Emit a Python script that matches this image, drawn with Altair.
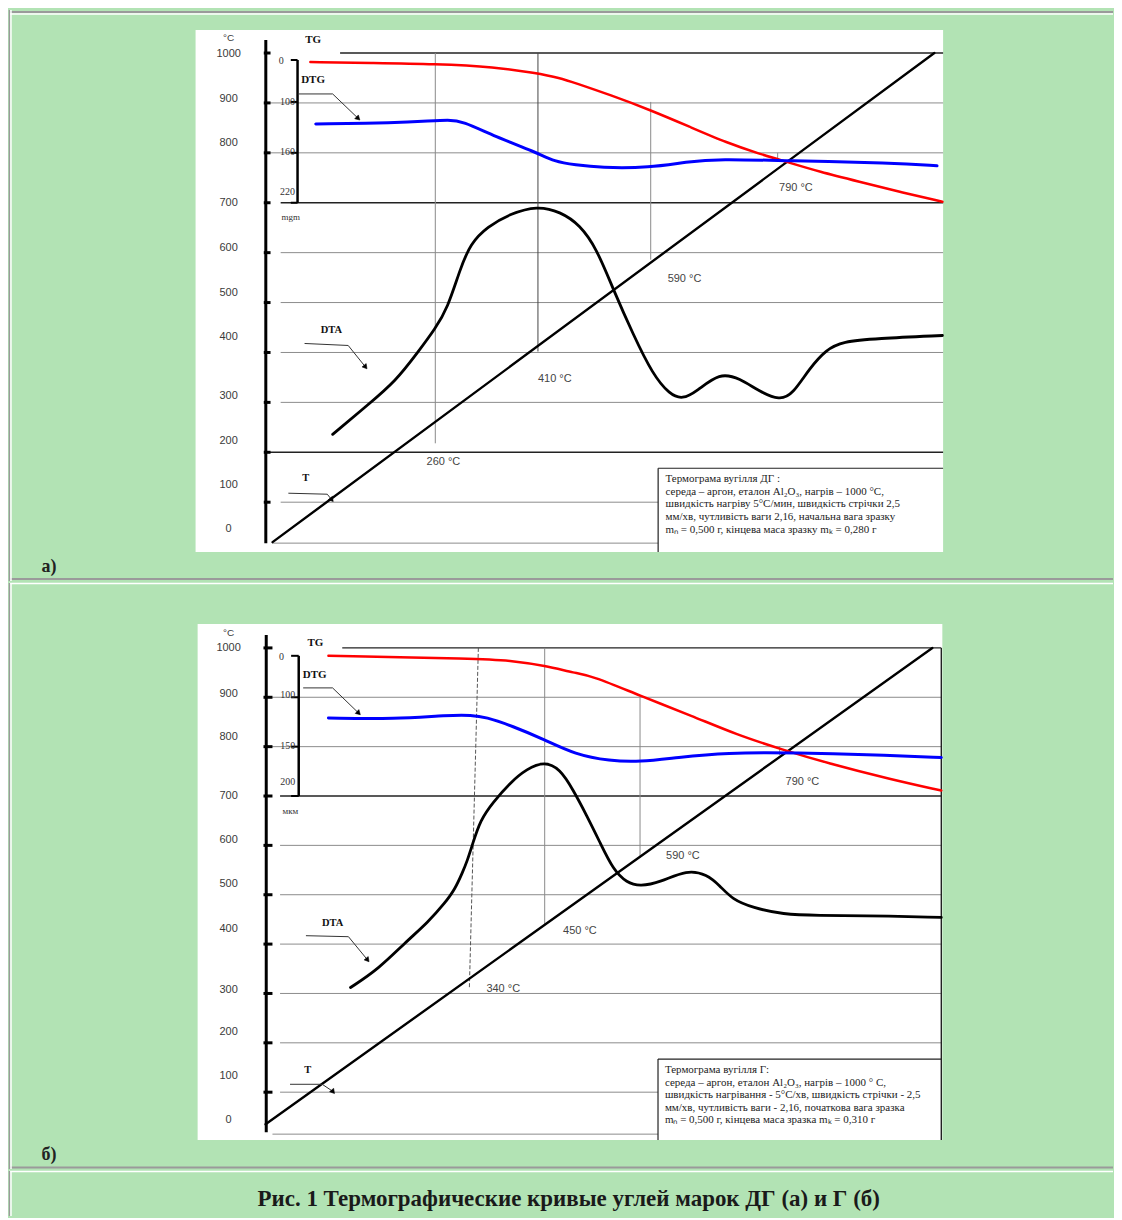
import altair as alt
import pandas as pd

PAGE_W = 1106
GREEN = "#b2e3b4"
GRID = "#8c8c8c"
DARK = "#222222"
SERIF = "Liberation Serif"
SANS = "Liberation Sans"

# ------------------------------------------------------------------
# Panel а) : coal ДГ   (x = temperature-equivalent, y = °C axis units)
# ------------------------------------------------------------------
A_T_X = [20, 1000]
A_T_Y = [20, 1000]
A_TG_X = [76, 165, 261, 350, 409, 446, 468, 520, 579, 638, 693, 741, 781, 830, 889, 948, 1012]
A_TG_Y = [982, 980, 978, 972, 960, 950, 940, 916, 886, 852, 820, 798, 782, 762, 742, 722, 702]
A_DTG_X = [84, 202, 254, 280, 301, 350, 409, 438, 468, 505, 579, 633, 682, 781, 938, 1004]
A_DTG_Y = [858, 860, 864, 866, 864, 832, 802, 782, 776, 770, 770, 782, 788, 784, 780, 774]
A_DTA_X = [109, 162, 202, 236, 261, 279, 298, 313, 338, 372, 412, 446, 475, 500, 524, 554, 583,
           608, 627, 648, 682, 712, 741, 771, 790, 815, 840, 864, 914, 1012]
A_DTA_Y = [236, 296, 342, 402, 448, 488, 568, 618, 652, 678, 694, 682, 656, 608, 528, 436, 356,
           316, 306, 322, 360, 348, 322, 304, 316, 368, 406, 422, 428, 434]

A_GRID_Y = [1000, 900, 800, 700, 600, 500, 400, 300, 200, 100, 18]
A_GRID_X1 = [120, 14, 14, 32, 32, 32, 32, 32, 10, 32, 20]
A_GRID_X2 = [1013, 1013, 1013, 1013, 1013, 1013, 1013, 1013, 1013, 591, 591]
A_GRID_DARK = [1000, 700, 200]

A_VLINE_X = [261, 413, 580, 768]
A_VLINE_Y1 = [1000, 1000, 902, 800]
A_VLINE_Y2 = [218, 402, 586, 782]

A_ANN_T = ["260 °C", "410 °C", "590 °C", "790 °C"]
A_ANN_X = [273, 438, 630, 795]
A_ANN_Y = [180, 346, 548, 730]

A_TICK_LABELS = ["1000", "900", "800", "700", "600", "500", "400", "300", "200", "100", "0"]
A_TICK_LABEL_Y = [998, 908, 820, 700, 610, 520, 430, 312, 222, 134, 46]
A_TICKS = [1000, 900, 800, 700, 600, 500, 400, 300, 200, 100]

A_DTG_TICKS = [986, 902, 800, 700]
A_DTG_LABELS = ["0", "100", "160", "220"]
A_DTG_LABEL_X = [33, 42, 42, 42]
A_DTG_LABEL_Y = [984, 902, 802, 722]

A_LEGEND = ["Термограма вугілля  ДГ :",
            "середа – аргон, еталон Al₂O₃, нагрів – 1000 °C,",
            "швидкість нагріву 5°C/мин, швидкість стрічки 2,5",
            "мм/хв, чутливість ваги 2,16, начальна вага  зразку",
            "mₙ = 0,500 г, кінцева маса зразку mₖ = 0,280 г"]
A_LEGEND_Y = [146, 120, 96, 70, 44]

PANEL_A = dict(
    xd=[-370.3, 1264.6], yd=[-58, 1086], h=572,
    T=(A_T_X, A_T_Y), TG=(A_TG_X, A_TG_Y), DTG=(A_DTG_X, A_DTG_Y), DTA=(A_DTA_X, A_DTA_Y),
    grid=(A_GRID_X1, A_GRID_X2, A_GRID_Y), grid_dark=A_GRID_DARK,
    vlines=(A_VLINE_X, A_VLINE_Y1, A_VLINE_Y2), vdark=[413], dashed=None,
    ann=(A_ANN_X, A_ANN_Y, A_ANN_T),
    box=(-94, 1013, 0, 1046),
    axis=(10, 1026, 18), ticks=A_TICKS, tick_x=(7, 17),
    tick_labels=(-45, A_TICK_LABEL_Y, A_TICK_LABELS), unit=(-45, 1030),
    dtg_axis=(57, 986, 700), dtg_ticks=A_DTG_TICKS, dtg_tick_x=(47, 57),
    dtg_labels=(A_DTG_LABEL_X, A_DTG_LABEL_Y, A_DTG_LABELS),
    names=([80, 80, 47], [1027, 946, 672], ["TG", "DTG", "mgm"]),
    dta_name=(107, 446), t_name=(69, 148),
    arrows=[([58, 109, 146], [918, 918, 870], 134),
            ([68, 132, 157], [418, 414, 372], 141),
            ([44, 101, 107], [118, 116, 106], 141)],
    legend_box=(591, 168, 1013, 0), legend_right=False,
    legend=(602, A_LEGEND_Y, A_LEGEND),
    frame_gray_h=[1082, -54], frame_white_h=[1078], frame_left=(-369.6, -367.4),
    tag=(-311, -30, "а)"),
)

# ------------------------------------------------------------------
# Panel б) : coal Г
# ------------------------------------------------------------------
B_T_X = [35, 1000]
B_T_Y = [35, 1000]
B_TG_X = [126, 343, 392, 439, 483, 509, 577, 653, 717, 783, 847, 942, 1013]
B_TG_Y = [984, 978, 974, 964, 949, 943, 903, 862, 824, 794, 767, 733, 711]
B_DTG_X = [126, 223, 299, 334, 353, 392, 439, 483, 533, 577, 630, 702, 798, 942, 1013]
B_DTG_Y = [858, 856, 864, 864, 860, 842, 814, 784, 771, 769, 778, 788, 788, 782, 778]
B_DTA_X = [158, 198, 237, 270, 295, 309, 320, 327, 334, 346, 364, 389, 413, 439, 461, 480, 500,
           519, 538, 558, 577, 606, 645, 674, 692, 711, 740, 783, 837, 895, 1013]
B_DTA_Y = [312, 349, 403, 444, 484, 511, 545, 569, 600, 652, 687, 727, 755, 770, 755, 713, 660,
           606, 551, 524, 517, 525, 551, 541, 519, 490, 474, 460, 458, 458, 454]

B_GRID_Y = [1000, 900, 800, 700, 600, 500, 400, 300, 200, 100, 15]
B_GRID_X1 = [146, 39, 39, 56, 56, 56, 56, 56, 56, 56, 45]
B_GRID_X2 = [1013, 1013, 1013, 1013, 1013, 1013, 1013, 1013, 1013, 603, 603]
B_GRID_DARK = [1000, 700]

B_VLINE_X = [439, 577, 779]
B_VLINE_Y1 = [1000, 903, 801]
B_VLINE_Y2 = [438, 575, 783]
B_DASH = ([343, 330], [1000, 312])

B_ANN_T = ["340 °C", "450 °C", "590 °C", "790 °C"]
B_ANN_X = [379, 490, 639, 812]
B_ANN_Y = [310, 426, 579, 729]

B_TICK_LABELS = ["1000", "900", "800", "700", "600", "500", "400", "300", "200", "100", "0"]
B_TICK_LABEL_Y = [1000, 907, 820, 701, 610, 521, 430, 308, 221, 132, 43]
B_TICKS = [1000, 900, 800, 700, 600, 500, 400, 300, 200, 100]

B_DTG_TICKS = [984, 900, 800, 700]
B_DTG_LABELS = ["0", "100", "150", "200"]
B_DTG_LABEL_X = [58, 67, 67, 67]
B_DTG_LABEL_Y = [982, 905, 802, 729]

B_LEGEND = ["Термограма вугілля Г:",
            "середа – аргон, еталон Al₂O₃, нагрів – 1000 ° C,",
            "швидкість нагрівання - 5°C/хв, швидкість стрічки - 2,5",
            "мм/хв, чутливість ваги - 2,16, початкова вага зразка",
            "mₙ = 0,500 г, кінцева маса зразка mₖ = 0,310 г"]
B_LEGEND_Y = [145, 118, 94, 68, 43]

PANEL_B = dict(
    xd=[-336.3, 1261.5], yd=[-55.6, 1131.4], h=587,
    T=(B_T_X, B_T_Y), TG=(B_TG_X, B_TG_Y), DTG=(B_DTG_X, B_DTG_Y), DTA=(B_DTA_X, B_DTA_Y),
    grid=(B_GRID_X1, B_GRID_X2, B_GRID_Y), grid_dark=B_GRID_DARK,
    vlines=(B_VLINE_X, B_VLINE_Y1, B_VLINE_Y2), vdark=[], dashed=B_DASH,
    ann=(B_ANN_X, B_ANN_Y, B_ANN_T),
    box=(-63.3, 1014.5, 3, 1048.5),
    axis=(36, 1026, 19), ticks=B_TICKS, tick_x=(32, 45),
    tick_labels=(-18.5, B_TICK_LABEL_Y, B_TICK_LABELS), unit=(-18.5, 1030),
    dtg_axis=(83, 984, 700), dtg_ticks=B_DTG_TICKS, dtg_tick_x=(72, 83),
    dtg_labels=(B_DTG_LABEL_X, B_DTG_LABEL_Y, B_DTG_LABELS),
    names=([107, 106, 71], [1010, 945, 670], ["TG", "DTG", "мкм"]),
    dta_name=(132, 442), t_name=(96, 145),
    arrows=[([90, 132, 169], [919, 919, 869], 134),
            ([94, 155, 182], [417, 415, 369], 141),
            ([71, 117, 132], [116, 116, 102], 141)],
    legend_box=(603, 167, 1013, 3), legend_right=True,
    legend=(613, B_LEGEND_Y, B_LEGEND),
    frame_gray_h=[-52.6], frame_white_h=[1130.4], frame_left=(-335.6, -333.4),
    tag=(-278.5, -27, "б)"),
)

CAPTION = "Рис. 1 Термографические кривые углей марок ДГ (а) и Г (б)"


# ------------------------------------------------------------------
def sc(dom):
    return alt.Scale(domain=dom, nice=False, zero=False)


def segs(x1, x2, y1, y2, P, color, width, dash=None):
    d = pd.DataFrame({"x1": x1, "x2": x2, "y1": y1, "y2": y2})
    kw = dict(color=color, strokeWidth=width)
    if dash:
        kw["strokeDash"] = dash
    return alt.Chart(d).mark_rule(**kw).encode(
        x=alt.X("x1:Q", scale=sc(P["xd"]), axis=None),
        x2="x2:Q",
        y=alt.Y("y1:Q", scale=sc(P["yd"]), axis=None),
        y2="y2:Q",
    )


def curve(xs, ys, P, color, width, interp="basis"):
    d = pd.DataFrame({"x": xs, "y": ys, "i": list(range(len(xs)))})
    return alt.Chart(d).mark_line(color=color, strokeWidth=width, interpolate=interp,
                                  strokeCap="round", strokeJoin="round").encode(
        x=alt.X("x:Q", scale=sc(P["xd"]), axis=None),
        y=alt.Y("y:Q", scale=sc(P["yd"]), axis=None),
        order="i:Q",
    )


def texts(xs, ys, labels, P, size, font=SANS, weight="normal", color="#333333", align="center"):
    d = pd.DataFrame({"x": xs, "y": ys, "t": labels})
    return alt.Chart(d).mark_text(fontSize=size, font=font, fontWeight=weight, color=color,
                                  align=align, baseline="middle").encode(
        x=alt.X("x:Q", scale=sc(P["xd"]), axis=None),
        y=alt.Y("y:Q", scale=sc(P["yd"]), axis=None),
        text="t:N",
    )


def rect(x1, x2, y1, y2, P, fill):
    d = pd.DataFrame({"x1": [x1], "x2": [x2], "y1": [y1], "y2": [y2]})
    return alt.Chart(d).mark_rect(fill=fill).encode(
        x=alt.X("x1:Q", scale=sc(P["xd"]), axis=None),
        x2="x2:Q",
        y=alt.Y("y1:Q", scale=sc(P["yd"]), axis=None),
        y2="y2:Q",
    )


def heads(xs, ys, angles, P):
    d = pd.DataFrame({"x": xs, "y": ys, "a": angles})
    return alt.Chart(d).mark_point(shape="triangle", filled=True, fill="black", stroke="black",
                                   strokeWidth=0.5, size=28, opacity=1).encode(
        x=alt.X("x:Q", scale=sc(P["xd"]), axis=None),
        y=alt.Y("y:Q", scale=sc(P["yd"]), axis=None),
        angle=alt.Angle("a:Q", scale=None),
    )


def build_panel(P):
    xd, yd = P["xd"], P["yd"]
    L = []
    # frame of the page table
    L.append(segs([xd[0]] * len(P["frame_gray_h"]), [xd[1]] * len(P["frame_gray_h"]),
                  P["frame_gray_h"], P["frame_gray_h"], P, "#9a9a9a", 2))
    L.append(segs([xd[0]] * len(P["frame_white_h"]), [xd[1]] * len(P["frame_white_h"]),
                  P["frame_white_h"], P["frame_white_h"], P, "#ffffff", 1.5))
    L.append(segs([P["frame_left"][0]], [P["frame_left"][0]], [yd[0]], [yd[1]], P, "#9a9a9a", 1.5))
    L.append(segs([P["frame_left"][1]], [P["frame_left"][1]], [yd[0]], [yd[1]], P, "#ffffff", 1.5))
    # white plot sheet
    bx = P["box"]
    L.append(rect(bx[0], bx[1], bx[2], bx[3], P, "#ffffff"))
    # grid
    gx1, gx2, gy = P["grid"]
    light = [(a, b, c) for a, b, c in zip(gx1, gx2, gy) if c not in P["grid_dark"]]
    dark = [(a, b, c) for a, b, c in zip(gx1, gx2, gy) if c in P["grid_dark"]]
    L.append(segs([r[0] for r in light], [r[1] for r in light], [r[2] for r in light],
                  [r[2] for r in light], P, GRID, 1))
    L.append(segs([r[0] for r in dark], [r[1] for r in dark], [r[2] for r in dark],
                  [r[2] for r in dark], P, DARK, 1.4))
    # vertical markers
    vx, vy1, vy2 = P["vlines"]
    lv = [(a, b, c) for a, b, c in zip(vx, vy1, vy2) if a not in P["vdark"]]
    dv = [(a, b, c) for a, b, c in zip(vx, vy1, vy2) if a in P["vdark"]]
    L.append(segs([r[0] for r in lv], [r[0] for r in lv], [r[1] for r in lv], [r[2] for r in lv],
                  P, "#8a8a8a", 1))
    if dv:
        L.append(segs([r[0] for r in dv], [r[0] for r in dv], [r[1] for r in dv], [r[2] for r in dv],
                      P, "#444444", 1))
    if P["dashed"]:
        dxs, dys = P["dashed"]
        L.append(segs([dxs[0]], [dxs[1]], [dys[0]], [dys[1]], P, "#555555", 1, dash=[4, 2]))
    # legend box
    lb = P["legend_box"]
    L.append(segs([lb[0], lb[0]], [lb[2], lb[0]], [lb[1], lb[1]], [lb[1], lb[3]], P, DARK, 1.2))
    if P["legend_right"]:
        L.append(segs([lb[2]], [lb[2]], [P["grid"][2][0]], [lb[3]], P, DARK, 1.4))
    # main axis
    ax = P["axis"]
    L.append(segs([ax[0]], [ax[0]], [ax[1]], [ax[2]], P, "black", 3))
    tx = P["tick_x"]
    L.append(segs([tx[0]] * len(P["ticks"]), [tx[1]] * len(P["ticks"]), P["ticks"], P["ticks"],
                  P, "black", 3))
    # TG / DTG axis
    da = P["dtg_axis"]
    L.append(segs([da[0]], [da[0]], [da[1]], [da[2]], P, "black", 2.5))
    dtx = P["dtg_tick_x"]
    L.append(segs([dtx[0]] * len(P["dtg_ticks"]), [dtx[1]] * len(P["dtg_ticks"]),
                  P["dtg_ticks"], P["dtg_ticks"], P, "black", 2))
    # curves
    L.append(curve(P["T"][0], P["T"][1], P, "black", 2.4, interp="linear"))
    L.append(curve(P["TG"][0], P["TG"][1], P, "#ff0000", 2.5))
    L.append(curve(P["DTG"][0], P["DTG"][1], P, "#0000ff", 3))
    L.append(curve(P["DTA"][0], P["DTA"][1], P, "black", 2.8))
    # pointer arrows
    for xs, ys, ang in P["arrows"]:
        L.append(curve(xs, ys, P, "#333333", 1, interp="linear"))
    L.append(heads([a[0][-1] for a in P["arrows"]], [a[1][-1] for a in P["arrows"]],
                   [a[2] for a in P["arrows"]], P))
    # texts
    tl = P["tick_labels"]
    L.append(texts([tl[0]] * len(tl[2]), tl[1], tl[2], P, 11, color="#3a3a3a"))
    L.append(texts([P["unit"][0]], [P["unit"][1]], ["°C"], P, 10, color="#3a3a3a"))
    dl = P["dtg_labels"]
    L.append(texts(dl[0], dl[1], dl[2], P, 10, font=SERIF, color="#333333"))
    nm = P["names"]
    L.append(texts(nm[0][:2], nm[1][:2], nm[2][:2], P, 11, font=SERIF, weight="bold", color="#111111"))
    L.append(texts(nm[0][2:], nm[1][2:], nm[2][2:], P, 9, font=SERIF, color="#333333"))
    L.append(texts([P["dta_name"][0], P["t_name"][0]], [P["dta_name"][1], P["t_name"][1]],
                   ["DTA", "T"], P, 10.5, font=SERIF, weight="bold", color="#111111"))
    an = P["ann"]
    L.append(texts(an[0], an[1], an[2], P, 11, color="#444444"))
    lg = P["legend"]
    L.append(texts([lg[0]] * len(lg[2]), lg[1], lg[2], P, 11, font=SERIF, color="#222222",
                   align="left"))
    tg = P["tag"]
    L.append(texts([tg[0]], [tg[1]], [tg[2]], P, 18, font=SERIF, weight="bold", color="#222222"))
    return alt.layer(*L).properties(width=PAGE_W, height=P["h"])


panel_a = build_panel(PANEL_A)
panel_b = build_panel(PANEL_B)

CAP = dict(xd=[0, 1], yd=[0, 1])
cap_layers = [
    segs([0], [1], [0.989], [0.989], CAP, "#ffffff", 1.5),
    segs([0.00045], [0.00045], [0], [1], CAP, "#9a9a9a", 1.5),
    segs([0.0018], [0.0018], [0], [1], CAP, "#ffffff", 1.5),
    texts([0.507], [0.37], [CAPTION], CAP, 23, font=SERIF, weight="bold", color="#1a1a1a"),
]
caption = alt.layer(*cap_layers).properties(width=PAGE_W, height=45)

chart = alt.vconcat(panel_a, panel_b, caption, spacing=0).properties(
    padding=0, background=GREEN
).configure_view(stroke=None)

chart.save("out.html", embed_options={"renderer": "svg", "actions": False})
